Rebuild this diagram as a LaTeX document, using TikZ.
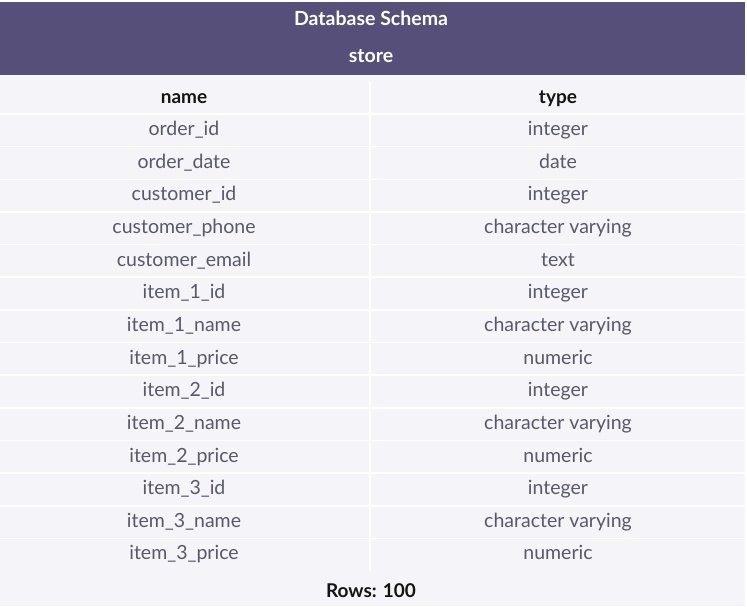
\documentclass[tikz,border=0pt]{standalone}
\usepackage{fontspec}
\setmainfont{Lato}
\definecolor{hdr}{HTML}{554F7A}
\definecolor{bg}{HTML}{F5F4F9}
\definecolor{txt}{HTML}{5A5969}
\definecolor{dark}{HTML}{141414}
\begin{document}
\begin{tikzpicture}[x=1pt,y=-1pt,
  cell/.style={font=\fontsize{19.5}{22}\selectfont, text=txt, anchor=base, inner sep=0pt},
  colhead/.style={font=\fontsize{19}{22}\selectfont\bfseries, text=dark, anchor=base, inner sep=0pt},
  title/.style={font=\fontsize{19.5}{22}\selectfont\bfseries, text=white, anchor=base, inner sep=0pt},
  sep/.style={draw=white, line width=1.6pt}]
\useasboundingbox (0,0) rectangle (747,606);
\fill[white] (0,0) rectangle (747,606);
\fill[bg] (0,2) rectangle (745,606);
\fill[hdr] (0,2) rectangle (745,75);
\node[title] (t1) at (371,25) {Database Schema};
\node[title] (t2) at (371,62) {store};
\node[colhead] (hn) at (184,103) {name};
\node[colhead] (ht) at (558,103) {type};
\foreach \i in {0,...,13} {
  \draw[sep] (0,{114+\i*32.65}) -- (745,{114+\i*32.65});
}
\draw[sep] (370,82) -- (370,571);
\foreach \n/\t [count=\i from 0] in {order\_id/integer, order\_date/date, customer\_id/integer, customer\_phone/character varying, customer\_email/text, item\_1\_id/integer, item\_1\_name/character varying, item\_1\_price/numeric, item\_2\_id/integer, item\_2\_name/character varying, item\_2\_price/numeric, item\_3\_id/integer, item\_3\_name/character varying, item\_3\_price/numeric} {
  \node[cell] (n\i) at (184,{135.5+\i*32.65}) {\n};
  \node[cell] (v\i) at (558,{135.5+\i*32.65}) {\t};
}
\node[colhead] (rows) at (371,597.5) {Rows: 100};
\end{tikzpicture}
\end{document}
